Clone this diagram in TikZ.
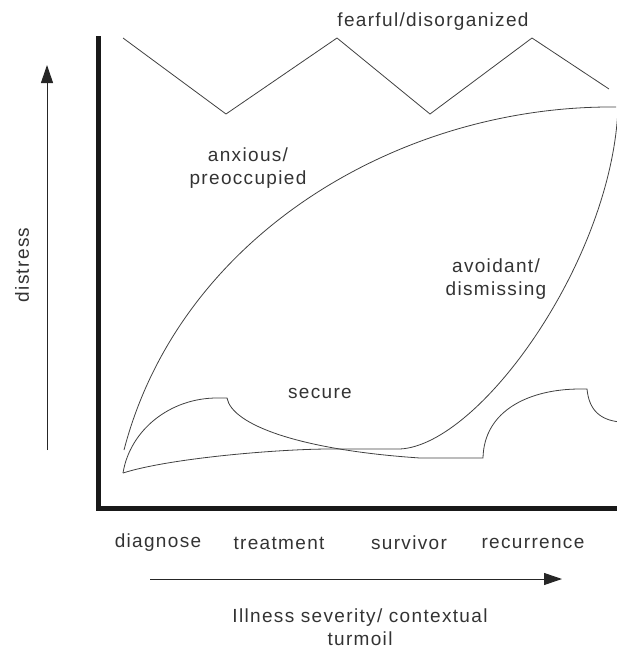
\documentclass[tikz,border=0pt]{standalone}
\usepackage{fontspec}
\setmainfont[LetterSpace=7]{Liberation Sans}
\usetikzlibrary{arrows.meta}
\tikzset{
  curve/.style={draw=black!75,line width=0.8pt},
  axis/.style={draw=black!90,line width=5pt},
  lbl/.style={text=black!80,font=\fontsize{19}{23}\selectfont,align=center,inner sep=0pt},
  dirarrow/.style={draw=black!85,line width=1pt,-{Triangle[length=18pt,width=12pt]}}
}
\begin{document}
\begin{tikzpicture}[x=1pt,y=-1pt]
    \useasboundingbox (0,0) rectangle (617,651);
    \clip (0,0) rectangle (617,651);
    \coordinate (cusp) at (123,473);
    \draw[axis] (98.5,36) -- (98.5,508) -- (620,508);
    \draw[curve] (123,38) -- (226,114) -- (337,38) -- (430,114) -- (532,38) -- (609,89);
    \draw[curve] (124,450) .. controls (180,235) and (400,105) .. (616,107);
    \draw[curve] (cusp) .. controls (170,458) and (280,449) .. (330,449) -- (400,449)
      .. controls (480,445) and (612,260) .. (618,108);
    \draw[curve] (cusp) .. controls (130,430) and (170,398) .. (217,398) -- (227,398)
      .. controls (232,425) and (300,450) .. (420,458) -- (483,458)
      .. controls (484,410) and (530,389) .. (580,389) -- (587,389)
      .. controls (589,410) and (600,420) .. (620,422);
    \node[lbl] (fearful) at (433,22) {fearful/disorganized};
    \node[lbl] (anxious) at (248,168) {anxious/\\preoccupied};
    \node[lbl] (avoidant) at (496,279) {avoidant/\\dismissing};
    \node[lbl] (secure) at (320,393) {secure};
    \node[lbl,rotate=90] (distress) at (22,265) {distress};
    \foreach \x/\t in {158/diagnose,279/treatment,409/survivor,533/recurrence}
    {
      \node[lbl] (\t) at (\x,543) {\t};
    }
    \node[lbl] (severity) at (360,627) {Illness severity/ contextual\\turmoil};
    \coordinate (ybase) at (47,450);
    \coordinate (ytop) at (47,65);
    \coordinate (xbase) at (150,579);
    \coordinate (xtop) at (562,579);
    \draw[dirarrow] (ybase) -- (ytop);
    \draw[dirarrow] (xbase) -- (xtop);
  \end{tikzpicture}
\end{document}
